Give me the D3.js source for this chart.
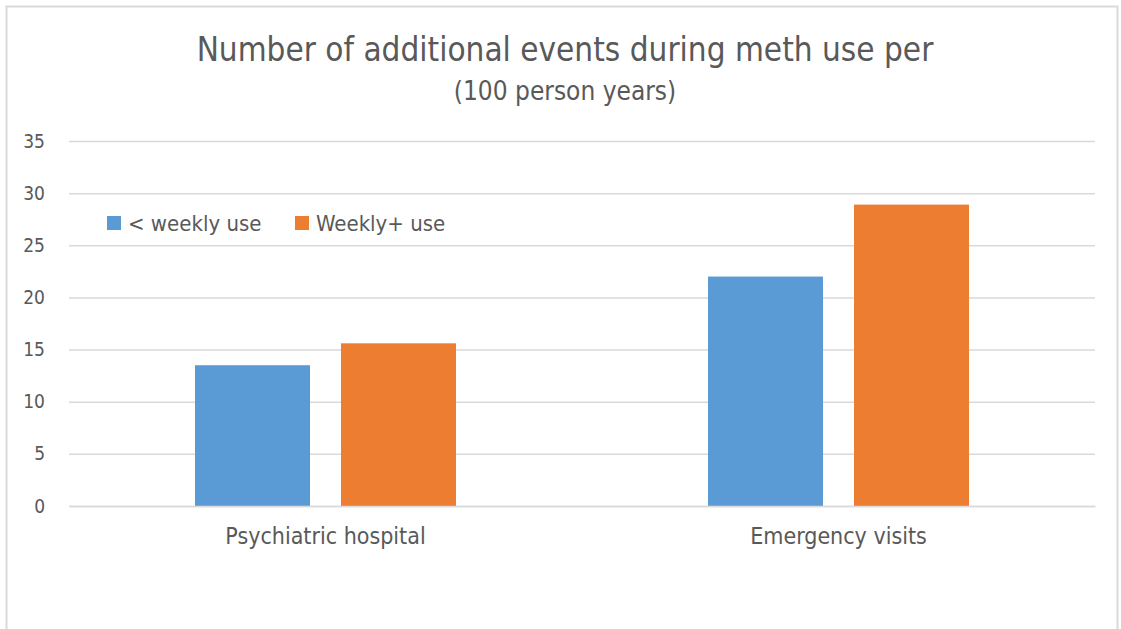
<html>
  <head>
    <script src="https://d3js.org/d3.v7.min.js"></script>
    <style>
      body { margin: 0; background: #fff; }
      text { font-family: "Liberation Sans Narrow", "DejaVu Sans Condensed", "Open Sans", sans-serif; fill: #595959; }
    </style>
  </head>
  <body>
    <div id="dataviz"></div>
    <script>
      var categories = ["Psychiatric hospital", "Emergency visits"];
      var seriesNames = ["< weekly use", "Weekly+ use"];
      var lessWeekly = [13.5, 22.0];
      var weeklyPlus = [15.6, 28.9];
      var yTicks = [0, 5, 10, 15, 20, 25, 30, 35];
      var colors = ["#5B9BD5", "#ED7D31"];

      var data = categories.map(function(c, i) {
        return { cat: c, values: [lessWeekly[i], weeklyPlus[i]] };
      });

      var W = 1121, H = 629;
      var margin = {top: 141, right: 26, bottom: 123, left: 69},
        width = W - margin.left - margin.right,
        height = H - margin.top - margin.bottom;

      var svg = d3.select("#dataviz")
        .append("svg")
          .attr("width", W)
          .attr("height", H);

      // chart frame
      svg.append("rect")
        .attr("x", 6.5).attr("y", 6.5)
        .attr("width", W - 10).attr("height", H + 20)
        .attr("fill", "none")
        .attr("stroke", "#D9D9D9")
        .attr("stroke-width", 2);

      svg.append("text")
        .attr("x", 565).attr("y", 61)
        .attr("text-anchor", "middle")
        .style("font-size", "33px")
        .text("Number of additional events during meth use per");

      svg.append("text")
        .attr("x", 565).attr("y", 100)
        .attr("text-anchor", "middle")
        .style("font-size", "26px")
        .text("(100 person years)");

      var g = svg.append("g")
        .attr("transform", "translate(" + margin.left + "," + margin.top + ")");

      var y = d3.scaleLinear()
        .domain([0, 35])
        .range([height, 0]);

      var x0 = d3.scaleBand()
        .domain(categories)
        .range([0, width]);

      // two bars 115 wide with a 31 gap, centred in each category
      var x1 = d3.scaleBand()
        .domain([0, 1])
        .range([x0.bandwidth() / 2 - 130.5, x0.bandwidth() / 2 + 130.5])
        .paddingInner(31 / 146)
        .paddingOuter(0);

      // gridlines
      g.append("g")
        .call(d3.axisLeft(y).tickValues(yTicks).tickSize(-width).tickFormat(""))
        .call(function(a) {
          a.select(".domain").remove();
          a.selectAll("line").attr("stroke", "#D9D9D9").attr("stroke-width", 1.5);
        });

      // y labels
      g.append("g")
        .attr("transform", "translate(-21,0)")
        .call(d3.axisLeft(y).tickValues(yTicks).tickSize(0))
        .call(function(a) {
          a.select(".domain").remove();
          a.selectAll("text").style("font-size", "19px").attr("fill", "#595959");
        });

      var groups = g.selectAll(".grp")
        .data(data)
        .enter().append("g")
          .attr("transform", function(d) { return "translate(" + x0(d.cat) + ",0)"; });

      groups.selectAll("rect")
        .data(function(d) { return d.values.map(function(v, i) { return {i: i, v: v}; }); })
        .enter().append("rect")
          .attr("x", function(d) { return x1(d.i); })
          .attr("width", x1.bandwidth())
          .attr("y", function(d) { return y(d.v); })
          .attr("height", function(d) { return height - y(d.v); })
          .attr("fill", function(d) { return colors[d.i]; });

      // x labels
      g.append("g")
        .attr("transform", "translate(0," + height + ")")
        .call(d3.axisBottom(x0).tickSize(0).tickPadding(22))
        .call(function(a) {
          a.select(".domain").attr("stroke", "#D9D9D9").attr("stroke-width", 1.5);
          a.selectAll("text").style("font-size", "23px").attr("fill", "#595959");
        });

      // legend
      var legX = [107, 295];
      var leg = svg.selectAll(".leg")
        .data(seriesNames)
        .enter().append("g")
          .attr("transform", function(d, i) { return "translate(" + legX[i] + ",216)"; });
      leg.append("rect")
        .attr("width", 14).attr("height", 14)
        .attr("fill", function(d, i) { return colors[i]; });
      leg.append("text")
        .attr("x", 21).attr("y", 15)
        .style("font-size", "22px")
        .text(function(d) { return d; });
    </script>
  </body>
</html>
